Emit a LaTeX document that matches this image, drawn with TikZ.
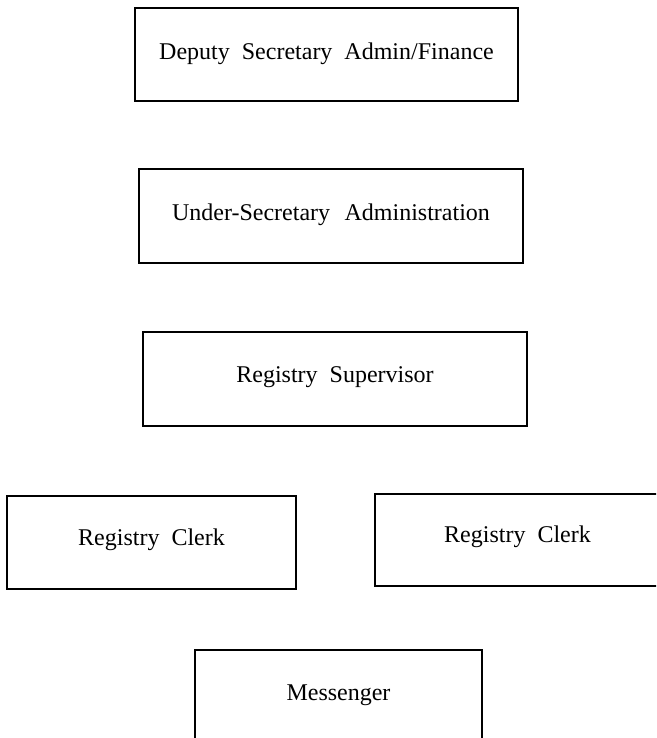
\documentclass[tikz,border=0pt]{standalone}
\usepackage{fontspec}
\setmainfont{Liberation Serif}
\begin{document}
\begin{tikzpicture}[x=1pt,y=-1pt,
  box/.style={draw=black, line width=2pt, rectangle, inner sep=0pt,
    font=\fontsize{24}{28}\selectfont, text height=16pt}]
\useasboundingbox (0,0) rectangle (656,738);
\clip (0,0) rectangle (656,738);
\node[box, minimum width=383pt, minimum height=93pt, text depth=5pt] (dep) at (326.5,54.5) {Deputy\hspace{0.5em}Secretary\hspace{0.5em}Admin/Finance};
\node[box, minimum width=384pt, minimum height=94pt, text depth=8pt] (under) at (331,216) {Under-Secretary\hspace{0.6em}Administration};
\node[box, minimum width=384pt, minimum height=94pt, text depth=10pt] (sup) at (335,379) {Registry\hspace{0.5em}Supervisor};
\node[box, minimum width=289pt, minimum height=93pt, text depth=11pt] (clerkL) at (151.5,542.5) {Registry\hspace{0.5em}Clerk};
\node[box, minimum width=285pt, minimum height=92pt, text depth=12pt] (clerkR) at (517.5,540) {Registry\hspace{0.5em}Clerk};
\node[box, minimum width=287pt, minimum height=95pt, text depth=11pt] (mess) at (338.5,697.5) {Messenger};
\end{tikzpicture}
\end{document}
